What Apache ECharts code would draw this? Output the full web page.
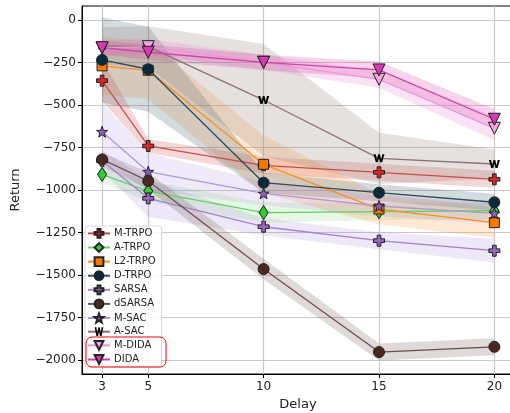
<!DOCTYPE html>
<html lang="en">
<head>
    <meta charset="UTF-8"/>
    <script src="https://cdn.jsdelivr.net/npm/echarts@6/dist/echarts.min.js"></script>
    <title>Return vs Delay</title>
    <style>
        html, body { margin: 0; padding: 0; background: #fff; overflow: hidden; }
    </style>
</head>
<body>
<div id="main" style="width: 510px;height:413px;"></div>
<script type="text/javascript">
    // delays on the x axis
    var delays = [3, 5, 10, 15, 20];
    var yTicks = [0, -250, -500, -750, -1000, -1250, -1500, -1750, -2000];

    // mean returns
    var mTrpo  = [-357, -741, -855, -896, -937];
    var aTrpo  = [-908, -1006, -1133, -1127, -1122];
    var l2Trpo = [-270, -296, -849, -1112, -1192];
    var dTrpo  = [-235, -290, -957, -1016, -1072];
    var sarsa  = [-828, -1049, -1216, -1298, -1357];
    var dSarsa = [-820, -947, -1465, -1953, -1922];
    var mSac   = [-657, -892, -1020, -1094, -1137];
    var aSac   = [-153, -157, -471, -814, -847];
    var mDida  = [-165, -157, -249, -349, -637];
    var dida   = [-163, -190, -249, -294, -584];

    // half width of the shaded bands
    var mTrpoStd  = [120, 40, 50, 50, 50];
    var aTrpoStd  = [50, 60, 60, 50, 50];
    var l2TrpoStd = [170, 170, 170, 90, 90];
    var dTrpoStd  = [250, 250, 60, 50, 50];
    var sarsaStd  = [60, 110, 50, 50, 70];
    var dSarsaStd = [40, 50, 60, 50, 50];
    var mSacStd   = [170, 110, 70, 60, 60];
    var aSacStd   = [110, 120, 330, 150, 85];
    var mDidaStd  = [45, 45, 45, 50, 70];
    var didaStd   = [40, 45, 45, 50, 60];

    var P_PLUS = 'path://M3,0H6V3H9V6H6V9H3V6H0V3H3Z';
    var P_STAR = 'path://M10,0L12.4,7L19.5,7L13.8,11.3L15.9,18.1L10,14L4.1,18.1L6.2,11.3L0.5,7L7.6,7Z';
    var P_W = 'path://M0,0H2.2L3.4,5.2L4.6,0H6.4L7.6,5.2L8.8,0H11L8.7,8H6.6L5.5,3.4L4.4,8H2.3Z';

    var methods = [
        {name: 'M-TRPO', mean: mTrpo, std: mTrpoStd, line: '#c4504e', mark: '#d62728', band: 'rgba(200,70,70,0.22)', symbol: P_PLUS, size: 11},
        {name: 'A-TRPO', mean: aTrpo, std: aTrpoStd, line: '#5fd35f', mark: '#33cc33', band: 'rgba(80,200,80,0.15)', symbol: 'diamond', size: [9, 14]},
        {name: 'L2-TRPO', mean: l2Trpo, std: l2TrpoStd, line: '#ff8c1a', mark: '#f57900', band: 'rgba(255,140,40,0.2)', symbol: 'rect', size: 10},
        {name: 'D-TRPO', mean: dTrpo, std: dTrpoStd, line: '#2e4a5e', mark: '#0c2a3e', band: 'rgba(60,90,110,0.22)', symbol: 'circle', size: 11},
        {name: 'SARSA', mean: sarsa, std: sarsaStd, line: '#a57fd0', mark: '#9467bd', band: 'rgba(160,120,210,0.18)', symbol: P_PLUS, size: 11},
        {name: 'dSARSA', mean: dSarsa, std: dSarsaStd, line: '#6b4f47', mark: '#4a2a20', band: 'rgba(110,85,75,0.22)', symbol: 'circle', size: 11},
        {name: 'M-SAC', mean: mSac, std: mSacStd, line: '#b197d8', mark: '#8f5fc0', band: 'rgba(170,140,215,0.18)', symbol: P_STAR, size: 11},
        {name: 'A-SAC', mean: aSac, std: aSacStd, line: '#8c7470', mark: '#000000', band: 'rgba(140,120,110,0.22)', symbol: P_W, size: [11, 8]},
        {name: 'M-DIDA', mean: mDida, std: mDidaStd, line: '#ec94da', mark: '#f4a6e2', band: 'rgba(230,120,200,0.22)', symbol: 'triangle', size: 12},
        {name: 'DIDA', mean: dida, std: didaStd, line: '#d43fb0', mark: '#d63cb2', band: 'rgba(210,60,170,0.22)', symbol: 'triangle', size: 12}
    ];

    function bandSeries(m) {
        return {
            type: 'custom',
            name: m.name + ' band',
            silent: true,
            z: 1,
            data: delays.map(function (d, i) { return [d, m.mean[i] - m.std[i], m.mean[i] + m.std[i]]; }),
            encode: {x: 0, y: [1, 2]},
            renderItem: function (params, api) {
                if (params.dataIndex !== 0) return;
                var up = [], lo = [];
                for (var i = 0; i < delays.length; i++) {
                    up.push(api.coord([delays[i], m.mean[i] + m.std[i]]));
                    lo.push(api.coord([delays[i], m.mean[i] - m.std[i]]));
                }
                return {
                    type: 'polygon',
                    shape: {points: up.concat(lo.reverse())},
                    style: {fill: m.band}
                };
            }
        };
    }

    function lineSeries(m) {
        var isW = m.symbol === P_W;
        return {
            type: 'line',
            name: m.name,
            z: 3,
            data: delays.map(function (d, i) { return [d, m.mean[i]]; }),
            symbol: m.symbol,
            symbolSize: m.size,
            symbolRotate: m.symbol === 'triangle' ? 180 : 0,
            showAllSymbol: true,
            lineStyle: {color: m.line, width: 1.3},
            itemStyle: {
                color: m.mark,
                borderColor: isW ? m.mark : '#222',
                borderWidth: isW ? 0 : 1
            },
            emphasis: {disabled: true},
            animation: false
        };
    }

    var series = [];
    methods.forEach(function (m) { series.push(bandSeries(m)); });
    methods.forEach(function (m) { series.push(lineSeries(m)); });

    var myChart = echarts.init(document.getElementById('main'));

    var option = {
        backgroundColor: '#ffffff',
        animation: false,
        textStyle: {fontFamily: 'DejaVu Sans'},
        grid: {
            left: 82, width: 432, top: 6, bottom: 39,
            outerBoundsMode: 'none',
            show: true, borderColor: '#000', borderWidth: 1, backgroundColor: 'transparent'
        },
        legend: {
            data: methods.map(function (m) { return m.name; }),
            orient: 'vertical',
            left: 85, top: 226,
            itemWidth: 22, itemHeight: 11, itemGap: 3.3,
            padding: [2, 6, 2, 2],
            backgroundColor: 'rgba(255,255,255,0.85)',
            borderColor: '#d8d8d8', borderWidth: 1, borderRadius: 3,
            textStyle: {fontSize: 10, color: '#222', padding: [0, 0, 0, -1]},
            selectedMode: false
        },
        xAxis: {
            type: 'value',
            min: 2.13, max: 20.85,
            name: 'Delay', nameLocation: 'middle', nameGap: 22,
            nameTextStyle: {fontSize: 13, color: '#222'},
            axisLine: {show: true, onZero: false, lineStyle: {color: '#000'}},
            axisTick: {show: true, length: 4, customValues: delays, lineStyle: {color: '#000'}},
            axisLabel: {customValues: delays, fontSize: 12, color: '#222', margin: 7},
            splitLine: {show: true, lineStyle: {color: '#c8c8c8', width: 1.2}}
        },
        yAxis: {
            type: 'value',
            min: -2082, max: 82,
            name: 'Return', nameLocation: 'middle', nameGap: 60, nameRotate: 90,
            nameTextStyle: {fontSize: 13, color: '#222'},
            axisLine: {show: true, onZero: false, lineStyle: {color: '#000'}},
            axisTick: {show: true, length: 4, customValues: yTicks, lineStyle: {color: '#000'}},
            axisLabel: {
                customValues: yTicks, fontSize: 12, color: '#222', margin: 6,
                formatter: function (v) { return String(v).replace('-', '\u2212'); }
            },
            splitLine: {show: true, lineStyle: {color: '#c8c8c8', width: 1.2}}
        },
        graphic: [{
            type: 'rect',
            z: 100,
            shape: {x: 86, y: 337, width: 80, height: 30, r: 6},
            style: {fill: 'none', stroke: '#ff0000', lineWidth: 1}
        }],
        series: series
    };

    myChart.setOption(option);
</script>
</body>
</html>
